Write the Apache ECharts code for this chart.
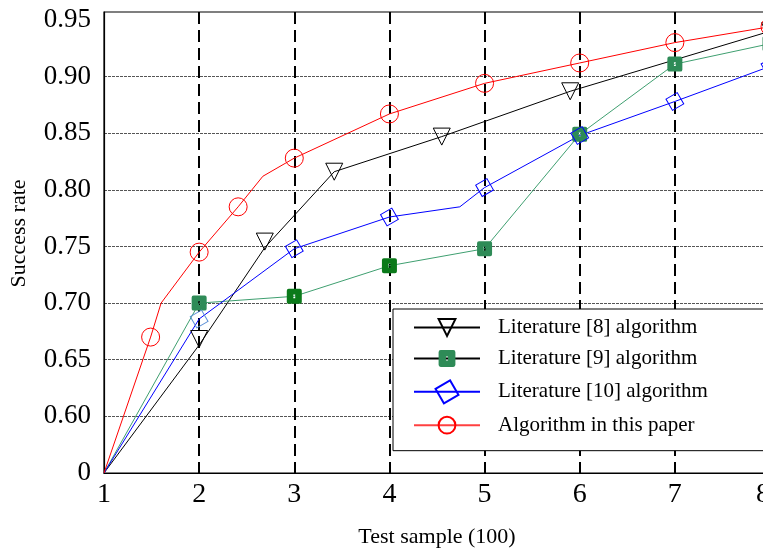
<!DOCTYPE html>
<html>
<head>
<meta charset="utf-8">
<script src="https://cdn.jsdelivr.net/npm/echarts@6/dist/echarts.min.js"></script>
<style>
  html, body { margin: 0; padding: 0; background: #fff; }
  #chart { width: 763px; height: 549px; }
</style>
</head>
<body>
<div id="chart"></div>
<script>
// y axis is broken: the bottom tick is labelled "0", drawn here at 0.55
const yTicks = [0.55, 0.60, 0.65, 0.70, 0.75, 0.80, 0.85, 0.90, 0.95];
const xTicks = [1, 2, 3, 4, 5, 6, 7, 8];
const seriesNames = ['Literature [8] algorithm', 'Literature [9] algorithm', 'Literature [10] algorithm', 'Algorithm in this paper'];

// vertices of each polyline; marks = 1 where a marker is drawn
const lit8X = [1, 2, 2.69, 3.42, 4.55, 5.9, 8];
const lit8Y = [0.55, 0.663, 0.749, 0.816, 0.847, 0.887, 0.94];
const lit8M = [0, 1, 1, 1, 1, 1, 1];

const lit9X = [1, 2, 3, 4, 5, 6, 7, 8];
const lit9Y = [0.55, 0.70, 0.706, 0.733, 0.748, 0.849, 0.911, 0.929];
const lit9M = [0, 1, 1, 1, 1, 1, 1, 1];

const lit10X = [1, 2, 3, 4, 4.74, 5, 6, 7, 8];
const lit10Y = [0.55, 0.686, 0.748, 0.776, 0.785, 0.802, 0.848, 0.878, 0.909];
const lit10M = [0, 1, 1, 1, 0, 1, 1, 1, 1];

const oursX = [1, 1.49, 1.6, 2, 2.41, 2.67, 3, 4, 5, 6, 7, 8];
const oursY = [0.55, 0.670, 0.700, 0.745, 0.785, 0.812, 0.828, 0.867, 0.894, 0.912, 0.930, 0.944];
const oursM = [0, 1, 0, 1, 1, 0, 1, 1, 1, 1, 1, 1];

const FONT = "'Liberation Serif', 'Times New Roman', serif";
const squareWithDot = 'path://M2,0H14Q16,0 16,2V14Q16,16 14,16H2Q0,16 0,14V2Q0,0 2,0Z M7,6V10H9V6Z';

function toData(xs, ys, marks, pointOpts) {
  return xs.map((x, i) => {
    const d = { value: [x, ys[i]] };
    if (!marks[i]) d.symbol = 'none';
    if (pointOpts && pointOpts[i]) Object.assign(d, pointOpts[i]);
    return d;
  });
}

function lineSeries(name, data, color, symbol, size, rotate, fill) {
  const solid = fill !== 'rgba(0,0,0,0)';
  return {
    name, type: 'line', data,
    symbol, symbolSize: size, symbolRotate: rotate, showSymbol: true,
    lineStyle: { color, width: 1 },
    itemStyle: { color: fill, borderColor: color, borderWidth: solid ? 0 : 1 },
    emphasis: { disabled: true },
    animation: false
  };
}

const chart = echarts.init(document.getElementById('chart'));
const gridGray = '#555';
const darkGreen = { itemStyle: { color: '#0b7a1a' } };

chart.setOption({
  backgroundColor: '#fff',
  textStyle: { fontFamily: FONT, color: '#000' },
  grid: { left: 104, right: -7, top: 12, bottom: 76, show: true, borderColor: '#000', borderWidth: 1.2, outerBoundsMode: 'none' },
  xAxis: {
    type: 'value', min: 1, max: 8, interval: 1,
    name: 'Test sample (100)', nameLocation: 'middle', nameGap: 53,
    nameTextStyle: { fontFamily: FONT, fontSize: 22, color: '#000' },
    axisLine: { lineStyle: { color: '#000', width: 1.2 } },
    axisTick: { show: false },
    axisLabel: {
      fontFamily: FONT, fontSize: 28, color: '#000', margin: 8,
      formatter: v => v === xTicks[xTicks.length - 1] ? '{e|' + v + '}' : String(v),
      rich: { e: { fontFamily: FONT, fontSize: 28, color: '#000', padding: [0, 14, 0, 0] } }
    },
    splitLine: { show: true, lineStyle: { color: ['rgba(0,0,0,0)', '#000', '#000', '#000', '#000', '#000', '#000', 'rgba(0,0,0,0)'], width: 2, type: [12, 6] } }
  },
  yAxis: {
    type: 'value', min: yTicks[0], max: 0.957, interval: 0.05,
    name: 'Success rate', nameLocation: 'middle', nameGap: 74, nameRotate: 90,
    nameTextStyle: { fontFamily: FONT, fontSize: 22, color: '#000', padding: [0, 0, 0, 18] },
    axisLine: { lineStyle: { color: '#000', width: 1.2 } },
    axisTick: { show: false },
    axisLabel: {
      fontFamily: FONT, fontSize: 27, color: '#000', margin: 13,
      formatter: v => v < 0.56 ? '0' : (v > 0.951 ? '' : v.toFixed(2))
    },
    splitLine: { show: true, lineStyle: { color: ['rgba(0,0,0,0)', gridGray, gridGray, gridGray, gridGray, gridGray, gridGray, gridGray, 'rgba(0,0,0,0)', 'rgba(0,0,0,0)'], width: 1, type: [3, 1] } }
  },
  legend: {
    orient: 'vertical', left: 393, top: 309,
    padding: [8, 90, 15, 20],
    itemWidth: 66, itemHeight: 21, itemGap: 10,
    backgroundColor: '#fff', borderColor: '#000', borderWidth: 1,
    textStyle: { fontFamily: FONT, fontSize: 21, color: '#000', padding: [0, 0, 0, 13] },
    data: [
      { name: seriesNames[0] },
      { name: seriesNames[1], lineStyle: { color: '#000' } },
      { name: seriesNames[2] },
      { name: seriesNames[3], lineStyle: { color: '#ff4040' } }
    ]
  },
  series: [
    lineSeries(seriesNames[0], toData(lit8X, lit8Y, lit8M, { 1: { symbolOffset: [0, -6] }, 2: { symbolOffset: [0, -6] } }), '#000', 'triangle', 17, 180, 'rgba(0,0,0,0)'),
    lineSeries(seriesNames[1], toData(lit9X, lit9Y, lit9M, { 2: darkGreen, 3: darkGreen }), '#3f9f70', squareWithDot, 15, 0, '#2e8b57'),
    lineSeries(seriesNames[2], toData(lit10X, lit10Y, lit10M, { 1: { itemStyle: { borderColor: '#5b8fd6' } } }), '#0000ff', 'rect', 13, 30, 'rgba(0,0,0,0)'),
    lineSeries(seriesNames[3], toData(oursX, oursY, oursM), '#ff0000', 'circle', 18, 0, 'rgba(0,0,0,0)')
  ]
});
</script>
</body>
</html>
